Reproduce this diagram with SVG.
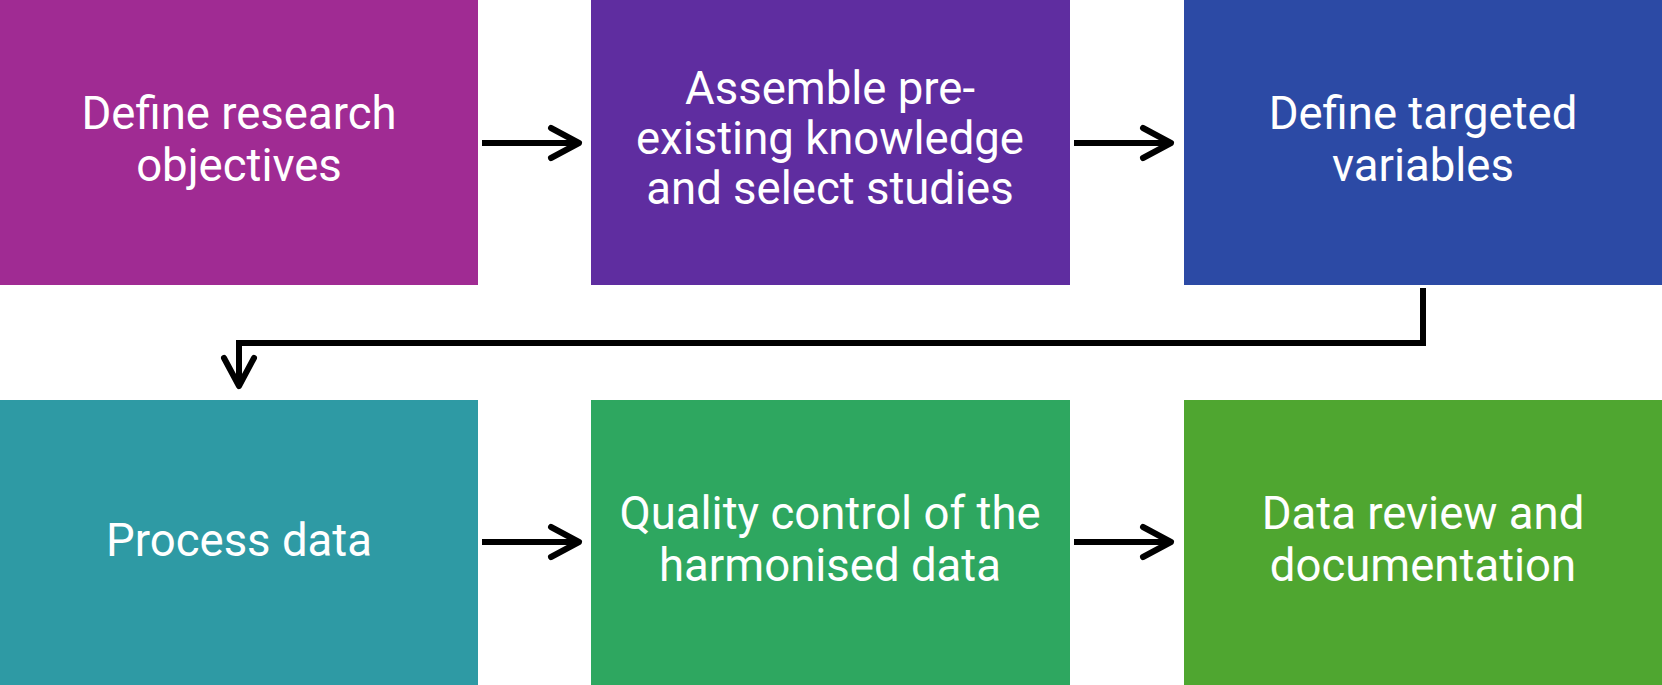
<svg xmlns="http://www.w3.org/2000/svg" width="1662" height="685" viewBox="0 0 1662 685">
<style>
.lbl{font-family:Roboto,"Liberation Sans",sans-serif;font-size:45.5px;fill:#fff;text-anchor:middle}
.con{fill:none;stroke:#000;stroke-width:6;stroke-linecap:round;stroke-linejoin:round}
.shaft{stroke-linecap:butt}
</style>
<rect width="1662" height="685" fill="#fff"/>
<g id="n1"><rect x="0" y="0" width="478" height="285" fill="#A02B93"/><text class="lbl" x="239" y="129">Define research</text><text class="lbl" x="239" y="181">objectives</text></g>
<g id="n2"><rect x="591" y="0" width="479" height="285" fill="#5F2DA0"/><text class="lbl" x="830" y="104">Assemble pre-</text><text class="lbl" x="830" y="154">existing knowledge</text><text class="lbl" x="830" y="204">and select studies</text></g>
<g id="n3"><rect x="1184" y="0" width="478" height="285" fill="#2C4AA5"/><text class="lbl" x="1423" y="129">Define targeted</text><text class="lbl" x="1423" y="181">variables</text></g>
<g id="n4"><rect x="0" y="400" width="478" height="285" fill="#2E9AA4"/><text class="lbl" x="239" y="556">Process data</text></g>
<g id="n5"><rect x="591" y="400" width="479" height="285" fill="#2EA760"/><text class="lbl" x="830" y="529">Quality control of the</text><text class="lbl" x="830" y="581">harmonised data</text></g>
<g id="n6"><rect x="1184" y="400" width="478" height="285" fill="#4FA630"/><text class="lbl" x="1423" y="529">Data review and</text><text class="lbl" x="1423" y="581">documentation</text></g>
<g id="connectors">
<path class="con shaft" d="M482 143H578"/><path class="con" d="M551 128L579 143L551 158"/>
<path class="con shaft" d="M1074 143H1170"/><path class="con" d="M1143 128L1171 143L1143 158"/>
<path class="con shaft" d="M482 542H578"/><path class="con" d="M551 527L579 542L551 557"/>
<path class="con shaft" d="M1074 542H1170"/><path class="con" d="M1143 527L1171 542L1143 557"/>
<path class="con shaft" style="stroke-linejoin:miter" d="M1423 288V343H239V385"/><path class="con" d="M224 358L239 386L254 358"/>
</g>
</svg>
